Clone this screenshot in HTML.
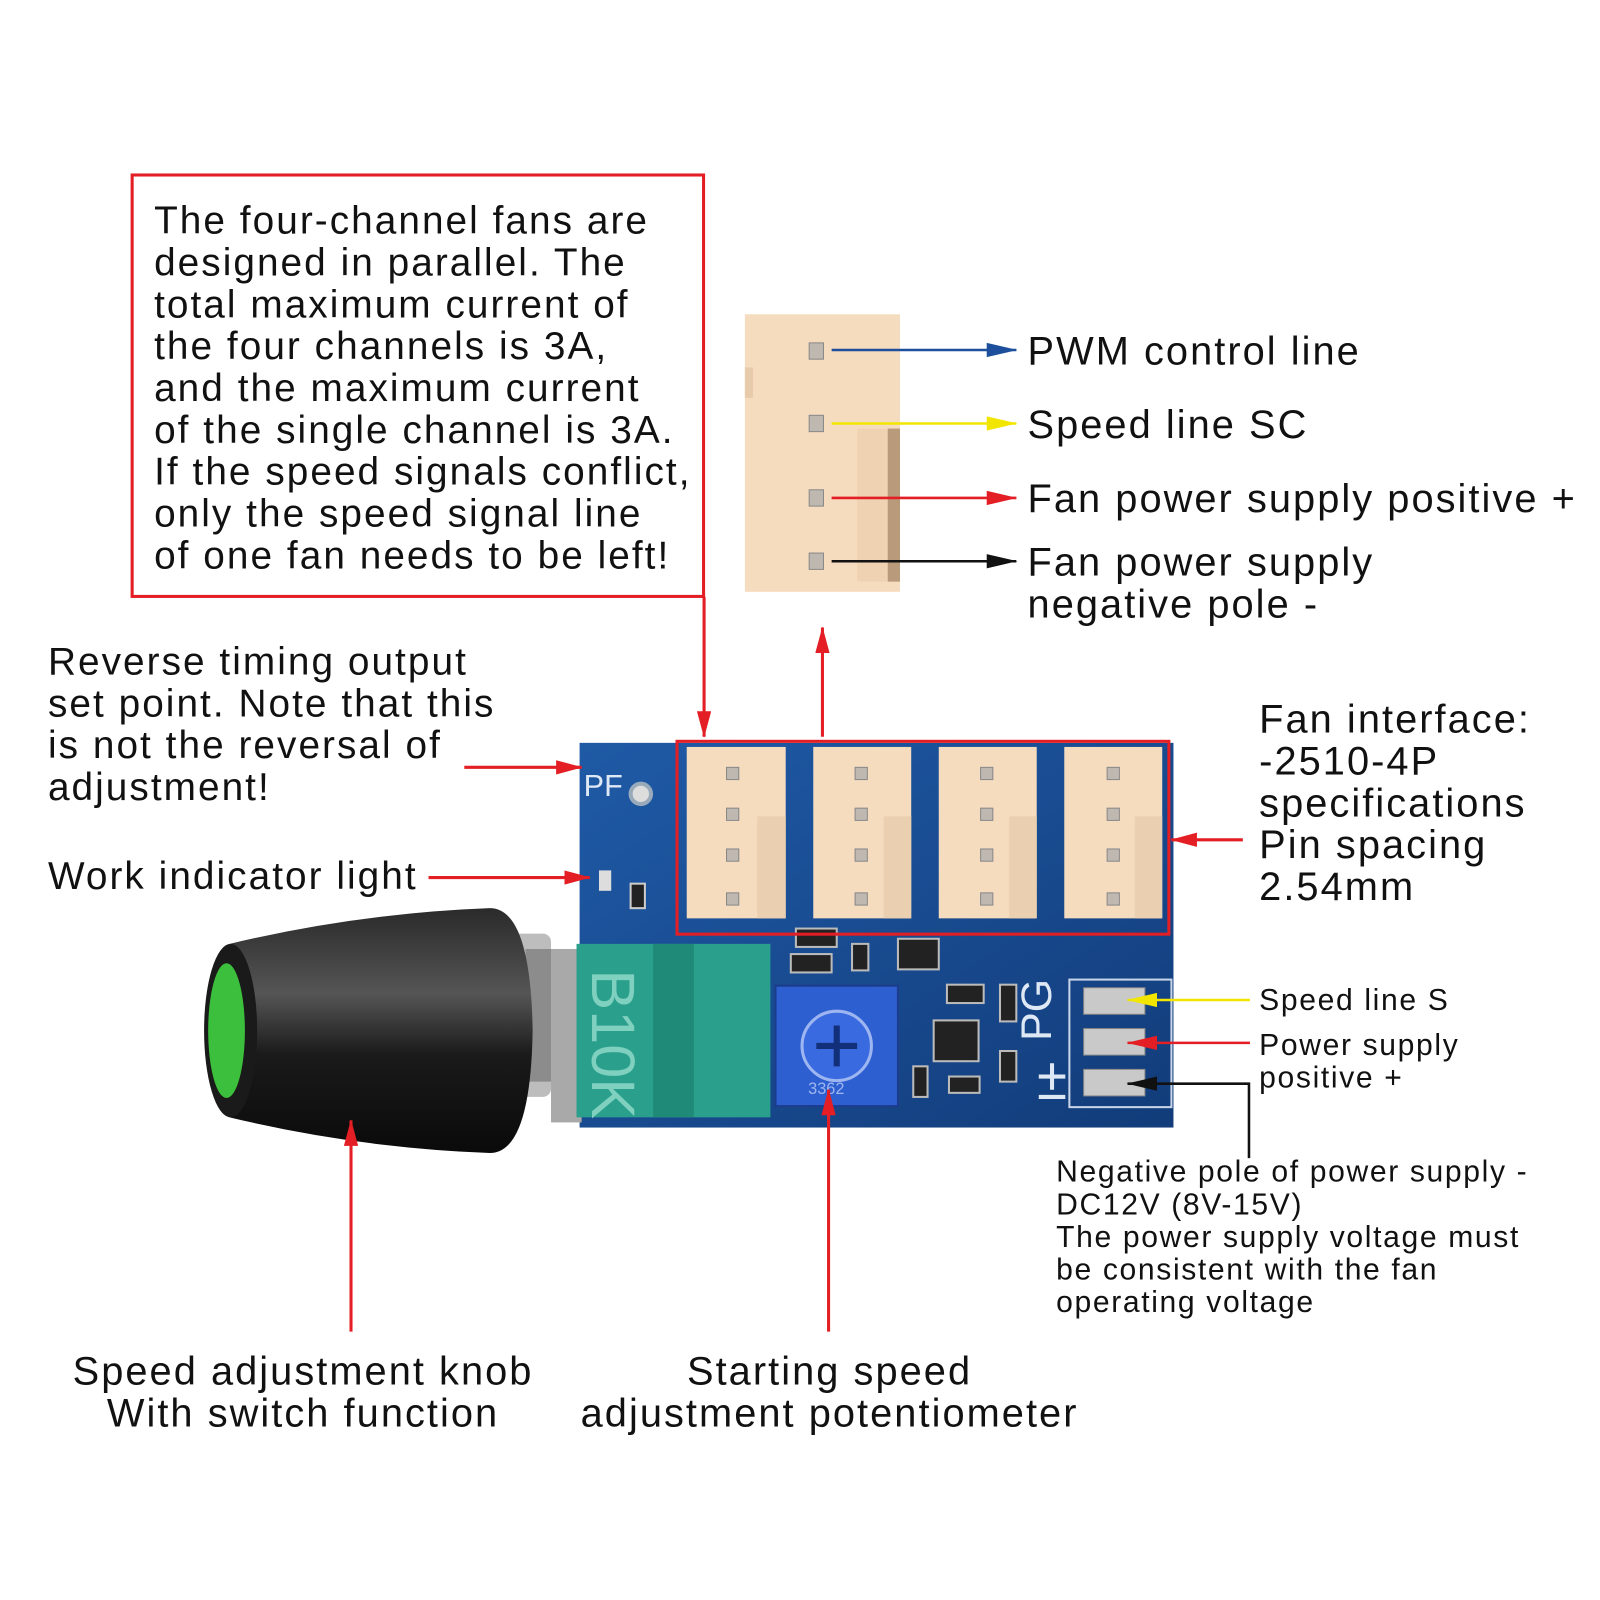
<!DOCTYPE html>
<html><head><meta charset="utf-8"><style>
html,body{margin:0;padding:0;background:#fff;width:1600px;height:1600px;overflow:hidden}
svg{display:block}
text{font-family:"Liberation Sans","DejaVu Sans",sans-serif;fill:#111}
</style></head><body>
<svg width="1600" height="1600" viewBox="0 0 1600 1600" xmlns="http://www.w3.org/2000/svg">
<defs>
<marker id="ab" markerWidth="30" markerHeight="14" refX="29" refY="7" orient="auto" markerUnits="userSpaceOnUse"><path d="M0,0 L30,7 L0,14 Z" fill="#1d4f9c"/></marker>
<marker id="ay" markerWidth="30" markerHeight="14" refX="29" refY="7" orient="auto" markerUnits="userSpaceOnUse"><path d="M0,0 L30,7 L0,14 Z" fill="#f2e600"/></marker>
<marker id="ar2" markerWidth="30" markerHeight="14" refX="29" refY="7" orient="auto" markerUnits="userSpaceOnUse"><path d="M0,0 L30,7 L0,14 Z" fill="#e31e24"/></marker>
<marker id="ak" markerWidth="30" markerHeight="14" refX="29" refY="7" orient="auto" markerUnits="userSpaceOnUse"><path d="M0,0 L30,7 L0,14 Z" fill="#111"/></marker>
<marker id="ar3" markerWidth="26" markerHeight="14" refX="25" refY="7" orient="auto" markerUnits="userSpaceOnUse"><path d="M0,0 L26,7 L0,14 Z" fill="#e31e24"/></marker>
<linearGradient id="knob" x1="0" y1="0" x2="0" y2="1"><stop offset="0" stop-color="#2a2a2a"/><stop offset="0.35" stop-color="#555"/><stop offset="0.6" stop-color="#1a1a1a"/><stop offset="1" stop-color="#0a0a0a"/></linearGradient>
<linearGradient id="pcb" x1="0" y1="0" x2="1" y2="1"><stop offset="0" stop-color="#1f5aa6"/><stop offset="1" stop-color="#123c7a"/></linearGradient>
</defs>
<g transform="scale(1.0204)">

<!-- top note box -->
<rect x="129.5" y="171.5" width="560" height="413" fill="none" stroke="#e31e24" stroke-width="3"/>
<g font-size="38" letter-spacing="2">
<text x="151" y="229">The four-channel fans are</text>
<text x="151" y="270">designed in parallel. The</text>
<text x="151" y="311">total maximum current of</text>
<text x="151" y="352">the four channels is 3A,</text>
<text x="151" y="393">and the maximum current</text>
<text x="151" y="434">of the single channel is 3A.</text>
<text x="151" y="475">If the speed signals conflict,</text>
<text x="151" y="516">only the speed signal line</text>
<text x="151" y="557">of one fan needs to be left!</text>
</g>

<!-- big connector -->
<rect x="730" y="308" width="152" height="272" fill="#f6dcbf"/>
<rect x="840" y="420" width="42" height="150" fill="#efd2b2"/>
<rect x="870" y="420" width="12" height="150" fill="#b99a7a"/>
<rect x="730" y="360" width="8" height="30" fill="#e8cbab"/>
<g fill="#bfb8b0" stroke="#888" stroke-width="1">
<rect x="793" y="336" width="14" height="16"/><rect x="793" y="407" width="14" height="16"/>
<rect x="793" y="480" width="14" height="16"/><rect x="793" y="542" width="14" height="16"/>
</g>
<line x1="815" y1="343" x2="996" y2="343" stroke="#1d4f9c" stroke-width="2.5" marker-end="url(#ab)"/>
<line x1="815" y1="415" x2="996" y2="415" stroke="#f2e600" stroke-width="2.5" marker-end="url(#ay)"/>
<line x1="815" y1="488" x2="996" y2="488" stroke="#e31e24" stroke-width="2.5" marker-end="url(#ar2)"/>
<line x1="815" y1="550" x2="996" y2="550" stroke="#111" stroke-width="2.5" marker-end="url(#ak)"/>
<g font-size="39" letter-spacing="2">
<text x="1007" y="357">PWM control line</text>
<text x="1007" y="429">Speed line SC</text>
<text x="1007" y="502">Fan power supply positive +</text>
<text x="1007" y="564">Fan power supply</text>
<text x="1007" y="605">negative pole -</text>
</g>

<!-- arrows to pcb -->
<line x1="806" y1="722" x2="806" y2="615" stroke="#e31e24" stroke-width="3" marker-end="url(#ar3)"/>
<line x1="690" y1="585" x2="690" y2="722" stroke="#e31e24" stroke-width="3" marker-end="url(#ar3)"/>

<!-- PCB -->
<rect x="568" y="728" width="582" height="377" fill="url(#pcb)"/>
<text x="572" y="780" font-size="30" style="fill:#dfe8f5">PF</text>
<circle cx="628" cy="778" r="10" fill="#ddd" stroke="#9ab" stroke-width="4"/>
<rect x="587" y="853" width="12" height="20" fill="#ddd"/>
<rect x="618" y="866" width="14" height="24" fill="#222" stroke="#ccc" stroke-width="2"/>
<text x="1030" y="1020" font-size="42" transform="rotate(-90 1030 1020)" style="fill:#dfe8f5">PG</text>
<rect x="1048" y="960" width="100" height="125" fill="none" stroke="#c8d4e8" stroke-width="2"/>
<path d="M1018,1055 H1044 M1031,1042 V1068 M1018,1075 H1044" stroke="#dfe8f5" stroke-width="4"/>
<g fill="#c9c9c9" stroke="#888">
<rect x="1062" y="968" width="60" height="26"/><rect x="1062" y="1008" width="60" height="26"/><rect x="1062" y="1048" width="60" height="26"/>
</g>
<!-- small components -->
<g fill="#222" stroke="#bbb" stroke-width="2">
<rect x="780" y="910" width="40" height="18"/><rect x="880" y="920" width="40" height="30"/><rect x="928" y="965" width="36" height="18"/>
<rect x="915" y="1000" width="44" height="40"/><rect x="930" y="1055" width="30" height="16"/><rect x="895" y="1045" width="14" height="30"/>
<rect x="980" y="965" width="16" height="36"/><rect x="980" y="1030" width="16" height="30"/><rect x="835" y="925" width="16" height="26"/>
<rect x="775" y="935" width="40" height="18"/>
</g>
<!-- fan connectors on pcb -->
<g>
<rect x="673" y="732" width="97" height="168" fill="#f6dcbf"/><rect x="742" y="800" width="28" height="100" fill="#ead0b0"/>
<rect x="797" y="732" width="96" height="168" fill="#f6dcbf"/><rect x="866" y="800" width="27" height="100" fill="#ead0b0"/>
<rect x="920" y="732" width="96" height="168" fill="#f6dcbf"/><rect x="989" y="800" width="27" height="100" fill="#ead0b0"/>
<rect x="1043" y="732" width="96" height="168" fill="#f6dcbf"/><rect x="1112" y="800" width="27" height="100" fill="#ead0b0"/>
</g>
<g fill="#bfb8b0" stroke="#888">
<rect x="712" y="752" width="12" height="12"/><rect x="712" y="792" width="12" height="12"/><rect x="712" y="832" width="12" height="12"/><rect x="712" y="875" width="12" height="12"/>
<rect x="838" y="752" width="12" height="12"/><rect x="838" y="792" width="12" height="12"/><rect x="838" y="832" width="12" height="12"/><rect x="838" y="875" width="12" height="12"/>
<rect x="961" y="752" width="12" height="12"/><rect x="961" y="792" width="12" height="12"/><rect x="961" y="832" width="12" height="12"/><rect x="961" y="875" width="12" height="12"/>
<rect x="1085" y="752" width="12" height="12"/><rect x="1085" y="792" width="12" height="12"/><rect x="1085" y="832" width="12" height="12"/><rect x="1085" y="875" width="12" height="12"/>
</g>
<rect x="663.5" y="726.5" width="482" height="189" fill="none" stroke="#e31e24" stroke-width="3"/>

<!-- potentiometer -->
<rect x="540" y="930" width="30" height="170" fill="#a9a9a9"/>
<rect x="565" y="925" width="190" height="170" fill="#2aa08c"/>
<rect x="640" y="925" width="40" height="170" fill="#1f8a78"/>
<text x="580" y="950" font-size="60" transform="rotate(90 580 950)" style="fill:#7fd0bf">B10K</text>
<!-- trimmer -->
<rect x="760" y="966" width="120" height="118" fill="#2e5fd0" stroke="#1c3c8c" stroke-width="2"/>
<circle cx="820" cy="1025" r="34" fill="#3a6ae0" stroke="#9db5f0" stroke-width="3"/>
<path d="M800,1025 H840 M820,1005 V1045" stroke="#12307a" stroke-width="6"/>
<text x="792" y="1072" font-size="16" style="fill:#9db5f0">3362</text>

<!-- knob -->
<rect x="490" y="915" width="50" height="160" rx="8" fill="#bdbdbd"/>
<rect x="515" y="930" width="25" height="130" fill="#8c8c8c"/>
<path d="M225,925 Q350,895 480,890 Q520,890 522,1010 Q520,1130 480,1130 Q350,1125 225,1095 Z" fill="url(#knob)"/>
<ellipse cx="226" cy="1010" rx="26" ry="85" fill="#1a1a1a"/>
<ellipse cx="222" cy="1010" rx="18" ry="66" fill="#3cbf3c"/>

<!-- left labels -->
<g font-size="38" letter-spacing="2">
<text x="47" y="661">Reverse timing output</text>
<text x="47" y="702">set point. Note that this</text>
<text x="47" y="743">is not the reversal of</text>
<text x="47" y="784">adjustment!</text>
<text x="47" y="871">Work indicator light</text>
</g>
<line x1="455" y1="752" x2="570" y2="752" stroke="#e31e24" stroke-width="3" marker-end="url(#ar3)"/>
<line x1="420" y1="860" x2="578" y2="860" stroke="#e31e24" stroke-width="3" marker-end="url(#ar3)"/>

<!-- right fan interface -->
<g font-size="39" letter-spacing="2">
<text x="1234" y="718">Fan interface:</text>
<text x="1234" y="759">-2510-4P</text>
<text x="1234" y="800">specifications</text>
<text x="1234" y="841">Pin spacing</text>
<text x="1234" y="882">2.54mm</text>
</g>
<line x1="1218" y1="823" x2="1148" y2="823" stroke="#e31e24" stroke-width="3" marker-end="url(#ar3)"/>

<!-- power terminal labels -->
<line x1="1225" y1="980" x2="1105" y2="980" stroke="#f2e600" stroke-width="2.5" marker-end="url(#ay)"/>
<line x1="1225" y1="1022" x2="1105" y2="1022" stroke="#e31e24" stroke-width="2.5" marker-end="url(#ar2)"/>
<polyline points="1224,1135 1224,1062 1105,1062" fill="none" stroke="#111" stroke-width="2.5" marker-end="url(#ak)"/>
<g font-size="29.5" letter-spacing="1.6">
<text x="1234" y="990">Speed line S</text>
<text x="1234" y="1034">Power supply</text>
<text x="1234" y="1066">positive +</text>
<text x="1035" y="1158">Negative pole of power supply -</text>
<text x="1035" y="1190">DC12V (8V-15V)</text>
<text x="1035" y="1222">The power supply voltage must</text>
<text x="1035" y="1254">be consistent with the fan</text>
<text x="1035" y="1286">operating voltage</text>
</g>

<!-- bottom arrows -->
<line x1="344" y1="1305" x2="344" y2="1098" stroke="#e31e24" stroke-width="3" marker-end="url(#ar3)"/>
<line x1="812" y1="1305" x2="812" y2="1068" stroke="#e31e24" stroke-width="3" marker-end="url(#ar3)"/>
<g font-size="39" letter-spacing="2" text-anchor="middle">
<text x="297" y="1357">Speed adjustment knob</text>
<text x="297" y="1398">With switch function</text>
<text x="813" y="1357">Starting speed</text>
<text x="813" y="1398">adjustment potentiometer</text>
</g>
</g>
</svg>
</body></html>
